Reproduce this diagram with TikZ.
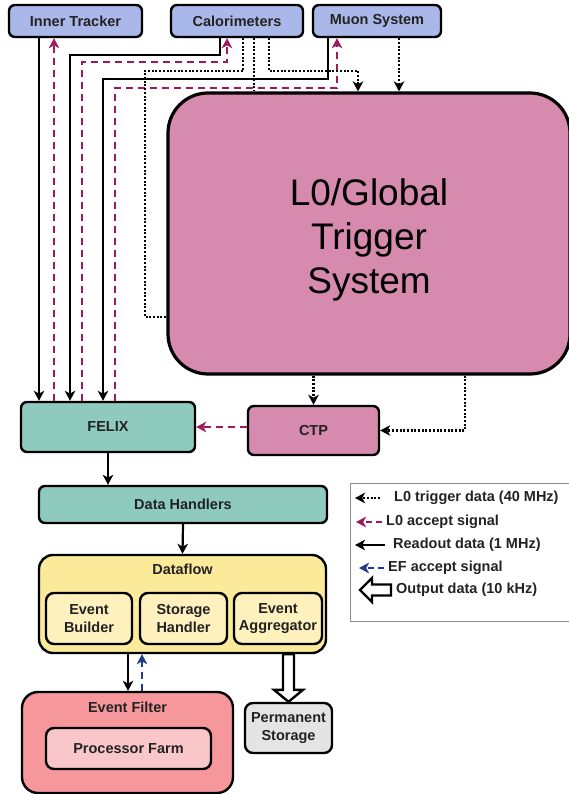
\documentclass[tikz,border=0pt]{standalone}
\usepackage{fontspec}
\setmainfont{Liberation Sans}
\usetikzlibrary{arrows.meta,calc}
\definecolor{topblue}{HTML}{A9B8E8}
\definecolor{tealbox}{HTML}{8FCABF}
\definecolor{pinkbox}{HTML}{D68AAE}
\definecolor{yellowbox}{HTML}{FCEA9B}
\definecolor{yellowin}{HTML}{FEF1BE}
\definecolor{salmonbox}{HTML}{F6979C}
\definecolor{salmonin}{HTML}{F9C7CA}
\definecolor{greybox}{HTML}{E4E4E4}
\definecolor{magline}{HTML}{A0195C}
\definecolor{blueline}{HTML}{1F3C88}
\definecolor{txt}{HTML}{222222}
\begin{document}
\begin{tikzpicture}[x=1pt,y=-1pt,
  box/.style={draw=black, line width=2.4pt, rounded corners=6pt, inner sep=0pt,
    font=\fontsize{14.5}{17.5}\selectfont\bfseries, text=txt, align=center},
  title/.style={inner sep=0pt, font=\fontsize{14.5}{17.5}\selectfont\bfseries, text=txt},
  tip/.style={-{Stealth[length=10pt,width=10.5pt,inset=2.8pt]}},
  readout/.style={tip, line width=2.2pt, draw=black},
  accept/.style={tip, line width=2.2pt, draw=magline, dash pattern=on 7pt off 5pt},
  efacc/.style={tip, line width=2.2pt, draw=blueline, dash pattern=on 7pt off 5pt},
  trig/.style={line width=2.2pt, draw=black, dash pattern=on 2pt off 1.7pt},
  trigtip/.style={trig, tip},
  hollow/.style={draw=black, fill=white, line width=2.4pt, line join=miter},
  legtext/.style={anchor=west, inner sep=0pt, font=\fontsize{14.5}{17.5}\selectfont\bfseries, text=txt}
]
\useasboundingbox (0,0) rectangle (568,794);

% top detector boxes
\node[box, fill=topblue, minimum width=133pt, minimum height=32pt] (it) at (75.5,21) {Inner Tracker};
\node[box, fill=topblue, minimum width=132pt, minimum height=32pt] (cal) at (237,21) {Calorimeters};
\node[box, fill=topblue, minimum width=128pt, minimum height=32pt] (muon) at (377,21) {Muon System};

% L0 / Global trigger
\node[draw=black, line width=3.2pt, fill=pinkbox, rounded corners=40pt,
  minimum width=402pt, minimum height=281pt, inner sep=0pt, align=center,
  font=\fontsize{37}{44}\selectfont, text=black] (l0) at (369,233.5)
  {\rule{0pt}{40pt}L0/Global\\Trigger\\System};

% FELIX, CTP
\node[box, fill=tealbox, minimum width=174pt, minimum height=50pt] (felix) at (108,427) {FELIX};
\node[box, fill=pinkbox, minimum width=131pt, minimum height=49pt] (ctp) at (313.5,430.5) {CTP};

% Data handlers
\node[box, fill=tealbox, minimum width=288pt, minimum height=37pt] (dh) at (183,504.5) {Data Handlers};

% Dataflow
\node[box, fill=yellowbox, rounded corners=14pt, minimum width=287pt, minimum height=98pt] (df) at (182.5,604) {};
\node[title] (dft) at (182.5,569) {Dataflow};
\node[box, fill=yellowin, rounded corners=8pt, minimum width=86pt, minimum height=51pt] (eb) at (89,618.5) {Event\\Builder};
\node[box, fill=yellowin, rounded corners=8pt, minimum width=87pt, minimum height=51pt] (sh) at (183.5,618.5) {Storage\\Handler};
\node[box, fill=yellowin, rounded corners=8pt, minimum width=88pt, minimum height=51pt] (ea) at (278,618.5) {Event\\Aggregator};

% Event filter
\node[box, fill=salmonbox, rounded corners=16pt, minimum width=211pt, minimum height=101pt] (ef) at (127.5,742.5) {};
\node[title] (eft) at (127.5,707) {Event Filter};
\node[box, fill=salmonin, rounded corners=8pt, minimum width=165pt, minimum height=41pt] (pf) at (128.5,748.5) {Processor Farm};

% Permanent storage
\node[box, fill=greybox, rounded corners=8pt, minimum width=87pt, minimum height=50pt] (ps) at (288.5,728) {Permanent\\Storage};

% readout lines to FELIX
\draw[readout] (it.south -| 39,0) -- (felix.north -| 39,0);
\draw[readout] (cal.south -| 220,0) -- (220,55) -- (70,55) -- (felix.north -| 70,0);
\draw[readout] (muon.south -| 328,0) -- (328,79) -- (103,79) -- (felix.north -| 103,0);

% L0 accept lines from FELIX to detectors
\draw[accept] (felix.north -| 54,0) -- (it.south -| 54,0);
\draw[accept] (felix.north -| 82,0) -- (82,62) -- (227,62) -- (cal.south -| 227,0);
\draw[accept] (felix.north -| 115,0) -- (115,88) -- (337,88) -- (muon.south -| 337,0);

% trigger data to L0
\draw[trig] (cal.south -| 243,0) -- (243,71) -- (145,71) -- (145,317) -- (l0.west |- 0,317);
\draw[trig] (cal.south -| 254,0) -- (l0.north -| 254,0);
\draw[trigtip] (cal.south -| 269,0) -- (269,71) -- (358,71) -- (l0.north -| 358,0);
\draw[trigtip] (muon.south -| 399,0) -- (l0.north -| 399,0);

% L0 to CTP
\draw[trigtip] (l0.south -| ctp.north) -- (ctp.north);
\draw[trigtip] (l0.south -| 465,0) |- (ctp.east);

% CTP to FELIX
\draw[accept] (ctp.west |- felix.east) -- (felix.east);

% data chain
\draw[readout] (felix.south) -- (dh.north -| felix.south);
\draw[readout] (dh.south) -- (df.north);
\draw[readout] (df.south -| 128,0) -- (ef.north -| 128,0);
\draw[efacc] (ef.north -| 142,0) -- (df.south -| 142,0);

% hollow output arrow
\coordinate (hs) at (df.south -| ps.north);
\draw[hollow] (ps.north) -- ++(-14.5,-12) -- ++(9,0) -- ($(hs)+(-5.5,0)$) -- ($(hs)+(5.5,0)$)
  -- ($(ps.north)+(5.5,-12)$) -- ++(9,0) -- cycle;

% legend
\draw[draw=black!45, line width=1pt] (350,483) rectangle (590,621);
\node[legtext] (t1) at (394,498) {L0 trigger data (40 MHz)};
\node[legtext] (t2) at (386,522) {L0 accept signal};
\node[legtext] (t3) at (393,545) {Readout data (1 MHz)};
\node[legtext] (t4) at (388,568) {EF accept signal};
\node[legtext] (t5) at (396,590) {Output data (10 kHz)};
\draw[trigtip] ($(t1.west)+(-14,0)$) -- ++(-25,0);
\draw[accept, dash pattern=on 6pt off 4pt] ($(t2.west)+(-4,0)$) -- ++(-26,0);
\draw[readout] ($(t3.west)+(-8,0)$) -- ++(-30,0);
\draw[efacc, dash pattern=on 6pt off 4pt] ($(t4.west)+(-4,0)$) -- ++(-25,0);
\coordinate (ht) at ($(t5.west)+(-36,0)$);
\draw[hollow] (ht) -- ++(12,-12) -- ++(0,6.5) -- ++(19,0) -- ++(0,11) -- ++(-19,0) -- ++(0,6.5) -- cycle;
\end{tikzpicture}
\end{document}
